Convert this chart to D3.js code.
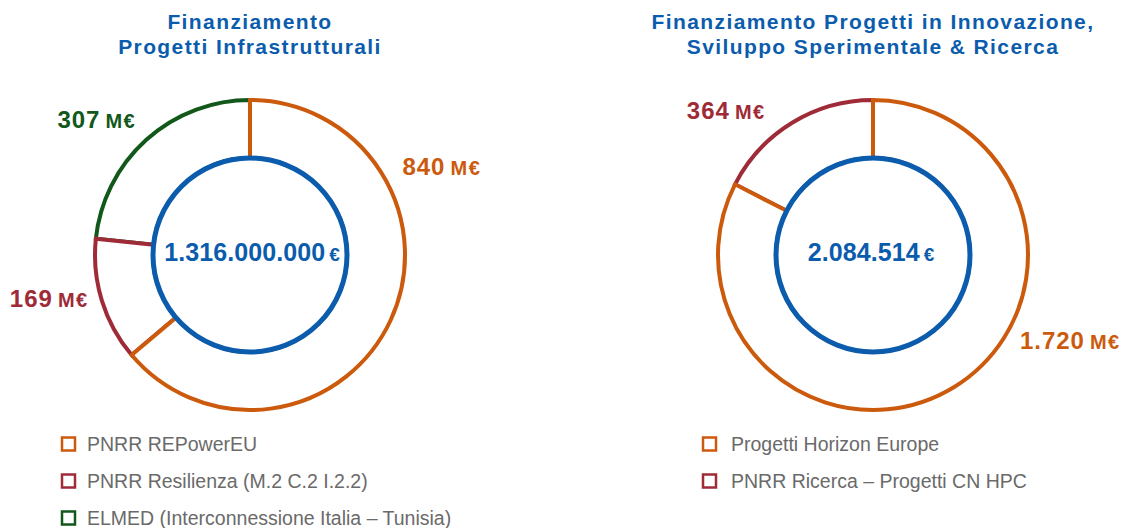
<!DOCTYPE html>
<html>
<head>
<meta charset="utf-8">
<script src="https://cdn.jsdelivr.net/npm/d3@7"></script>
<style>
  body { margin: 0; background: #fff; }
  svg text { font-family: "Liberation Sans", Arial, Helvetica, sans-serif; }
</style>
</head>
<body>
<div id="chart-area"></div>
<script>
// DATA
const infraLabels = ["PNRR REPowerEU", "PNRR Resilienza (M.2 C.2 I.2.2)", "ELMED (Interconnessione Italia – Tunisia)"];
const infraValues = [840, 169, 307];
const infraValueText = ["840", "169", "307"];
const infraTotal = "1.316.000.000";

const ricercaLabels = ["Progetti Horizon Europe", "PNRR Ricerca – Progetti CN HPC"];
const ricercaValues = [1720, 364];
const ricercaValueText = ["1.720", "364"];
const ricercaTotal = "2.084.514";

const colors = ["#cc5a0c", "#9e2b37", "#11581a"];
const blue = "#0b5cad";

let width = 1124, height = 528;

let svg = d3.select("#chart-area")
  .append("svg")
  .attr("width", width)
  .attr("height", height);

const rOuter = 155, rInner = 97;

function drawDonut(opt) {
  let g = svg.append("g")
    .attr("transform", "translate(" + opt.cx + "," + opt.cy + ")");

  let pie = d3.pie().sort(null).value(d => d);
  let arcs = pie(opt.values).map((d, i) => Object.assign(d, { i: i }));

  let arc = d3.arc().innerRadius(rInner).outerRadius(rOuter);

  // later segments first so the earlier ones' edges sit on top
  g.selectAll(".seg")
    .data(arcs.slice().reverse())
    .enter()
    .append("path")
    .attr("class", "seg")
    .attr("d", arc)
    .attr("fill", "#fff")
    .attr("stroke", d => colors[d.i])
    .attr("stroke-width", 4);

  g.append("circle")
    .attr("r", rInner)
    .attr("fill", "#fff")
    .attr("stroke", blue)
    .attr("stroke-width", 5);

  // total in the middle
  let t = g.append("text")
    .attr("x", opt.totalDx)
    .attr("y", 0)
    .attr("dy", "0.36em")
    .attr("text-anchor", "middle")
    .attr("fill", blue)
    .attr("font-weight", "bold");
  t.append("tspan").attr("font-size", 25).style("letter-spacing", "0.1px").text(opt.total);
  t.append("tspan").attr("font-size", 19).attr("dx", 4).text("€");

  // value labels
  arcs.forEach((d, i) => {
    let a = opt.labelAngle[i] * Math.PI / 180, r = opt.labelRadius[i];
    let lt = g.append("text")
      .attr("x", r * Math.sin(a))
      .attr("y", -r * Math.cos(a))
      .attr("dy", "0.36em")
      .attr("text-anchor", "middle")
      .attr("fill", colors[i])
      .attr("font-weight", "bold");
    lt.append("tspan").attr("font-size", 24).style("letter-spacing", "1px").text(opt.valueText[i]);
    lt.append("tspan").attr("font-size", 20).attr("dx", 5).style("letter-spacing", "1.5px").text("M€");
  });

  // title
  svg.append("text")
    .attr("x", opt.cx)
    .attr("y", 29)
    .attr("text-anchor", "middle")
    .attr("fill", blue)
    .attr("font-weight", "bold")
    .attr("font-size", 21)
    .style("letter-spacing", "1.4px")
    .selectAll("tspan")
    .data(opt.title)
    .enter()
    .append("tspan")
    .attr("x", opt.cx)
    .attr("dy", (d, i) => i ? 25 : 0)
    .text(d => d);

  // legend
  let leg = svg.append("g")
    .attr("transform", "translate(" + opt.legendX + ",444)");
  let items = leg.selectAll(".item")
    .data(opt.labels)
    .enter()
    .append("g")
    .attr("class", "item")
    .attr("transform", (d, i) => "translate(0," + i * 37 + ")");
  items.append("rect")
    .attr("x", 0).attr("y", -6.5)
    .attr("width", 13).attr("height", 13)
    .attr("fill", "none")
    .attr("stroke", (d, i) => colors[i])
    .attr("stroke-width", 2.5);
  items.append("text")
    .attr("x", opt.legendGap)
    .attr("dy", "0.36em")
    .attr("font-size", 19.5)
    .attr("fill", "#6a6a6a")
    .text(d => d);
}

drawDonut({
  cx: 250, cy: 255,
  values: infraValues, valueText: infraValueText, labels: infraLabels,
  total: infraTotal, totalDx: 2,
  title: ["Finanziamento", "Progetti Infrastrutturali"],
  labelAngle: [66, 257, 311], labelRadius: [210, 206, 203],
  legendX: 62, legendGap: 25
});

drawDonut({
  cx: 873, cy: 255,
  values: ricercaValues, valueText: ricercaValueText, labels: ricercaLabels,
  total: ricercaTotal, totalDx: -2,
  title: ["Finanziamento Progetti in Innovazione,", "Sviluppo Sperimentale & Ricerca"],
  labelAngle: [114, 314], labelRadius: [216, 204],
  legendX: 703, legendGap: 28
});
</script>
</body>
</html>
